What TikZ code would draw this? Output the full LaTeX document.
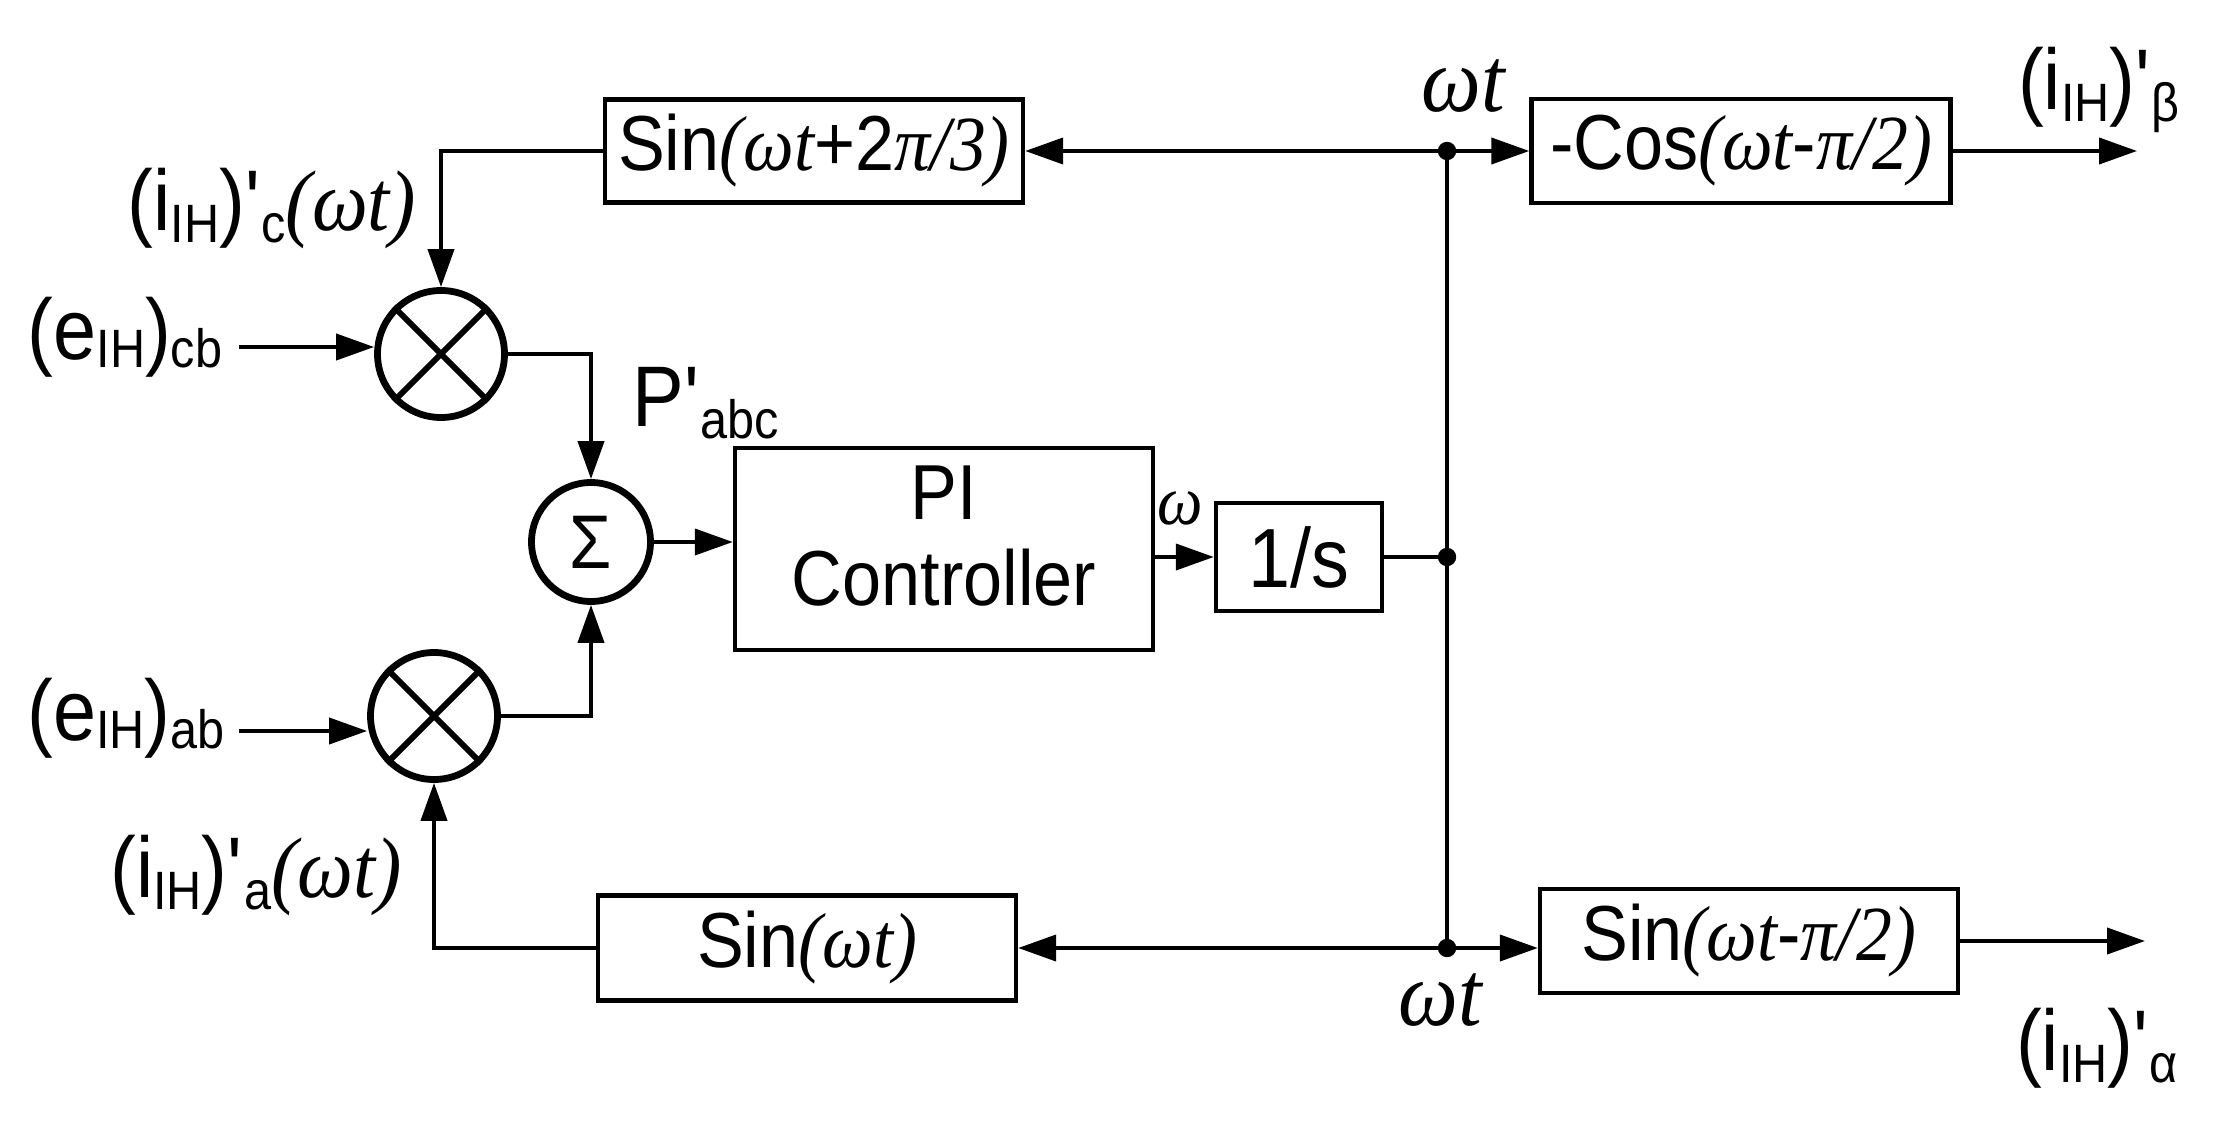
\documentclass[tikz,border=0pt]{standalone}
\usepackage{fontspec}
\setmainfont{Liberation Sans}[FakeStretch=0.9]
\newfontfamily\srf{Liberation Serif}[FakeStretch=0.92]
\usetikzlibrary{arrows.meta,calc}
\newcommand\iw[1]{{\srf\itshape #1}}
\newcommand\lo[2][3pt]{\raisebox{-#1}{\fontsize{13.5}{14}\selectfont #2}}
\newcommand\pr{\textquotesingle}
\begin{document}
\begin{tikzpicture}[x=0.25pt,y=-0.25pt,
  box/.style={draw,line width=1.1pt,inner sep=0pt,font=\fontsize{19.5}{21.5}\selectfont},
  mult/.style={draw,circle,line width=1.7pt,inner sep=0pt,minimum size=31.75pt},
  dot/.style={circle,fill,inner sep=0pt,minimum size=4.6pt},
  lab/.style={inner sep=0pt,font=\fontsize{21.5}{23}\selectfont},
  ln/.style={line width=1pt},
  arr/.style={line width=1pt,-{Triangle[length=9.5pt,width=6.5pt]}}]
\useasboundingbox (0,0) rectangle (2217,1134);
% blocks
\node[box,minimum width=104.5pt,minimum height=25.75pt] (sinc) at (814,151) {Sin\iw{(ωt}+2\iw{π/3)}};
\node[box,minimum width=104.75pt,minimum height=26pt] (cos) at (1741,151) {-Cos\iw{(ωt}-\iw{π/2)}};
\node[box,minimum width=104.5pt,minimum height=50.5pt,align=center] (PI) at (944,549) {PI\\Controller\strut};
\node[box,minimum width=41.5pt,minimum height=27pt,font=\fontsize{21}{22}\selectfont] (int) at (1299,557) {1/s};
\node[box,minimum width=104.5pt,minimum height=26.25pt] (sina) at (807,948) {Sin\iw{(ωt)}};
\node[box,minimum width=104.5pt,minimum height=26pt] (sinb) at (1749,941) {Sin\iw{(ωt}-\iw{π/2)}};
% multipliers and summer
\node[mult] (m1) at (441,354) {};
\node[mult] (m2) at (434,716) {};
\node[mult,minimum size=29.75pt,font=\fontsize{19}{20}\selectfont] (sum) at (591,542) {Σ};
\draw[line width=1.5pt] (m1.45) -- (m1.225) (m1.135) -- (m1.315);
\draw[line width=1.5pt] (m2.45) -- (m2.225) (m2.135) -- (m2.315);
% dots and free ends
\node[dot] (dT) at (1447,151) {};
\node[dot] (dM) at (1447,557) {};
\node[dot] (dB) at (1447,948) {};
\coordinate (outb) at (2137,151);
\coordinate (outa) at (2145,941);
\coordinate (ecbE) at (239,347);
\coordinate (eabE) at (239,731);
% labels
\node[lab] (lic) at (272,208) {(i\lo{IH})\pr\lo{c}\iw{(ωt)}};
\node[lab] (ecb) at (125,337) {(e\lo[2pt]{IH})\lo[2pt]{cb}};
\node[lab] (pabc) at (706,403) {P\pr\lo{abc}};
\node[lab] (eab) at (126,718) {(e\lo[2pt]{IH})\lo[2pt]{ab}};
\node[lab] (lia) at (256,875) {(i\lo{IH})\pr\lo{a}\iw{(ωt)}};
\node[lab,font=\fontsize{23}{24}\selectfont] (wt1) at (1463,86) {\iw{ωt}};
\node[lab,font=\fontsize{23}{24}\selectfont] (wt2) at (1440,1000) {\iw{ωt}};
\node[lab] (lb) at (2099,90) {(i\lo{IH})\pr\lo{β}};
\node[lab] (la) at (2097,1048) {(i\lo{IH})\pr\lo{α}};
\node[lab,font=\fontsize{17.5}{18}\selectfont] (w) at (1180,508) {\iw{ω}};
% connectors
\draw[ln] (int.east) -- (dM.center);
\draw[ln] (dT.center) -- (dB.center);
\draw[arr] (dT.center) -- (sinc.east);
\draw[arr] (dT.center) -- (cos.west);
\draw[arr] (sinc.west) -| (m1.north);
\draw[arr] (m1.east) -| (sum.north);
\draw[arr] (m2.east) -| (sum.south);
\draw[arr] (sum.east) -- (sum.east -| PI.west);
\draw[arr] (int.west -| PI.east) -- (int.west);
\draw[arr] (dB.center) -- (sina.east);
\draw[arr] (dB.center) -- (dB.center -| sinb.west);
\draw[arr] (sina.west) -| (m2.south);
\draw[arr] (cos.east) -- (outb);
\draw[arr] (sinb.east) -- (outa);
\draw[arr] (ecbE) -- (ecbE -| m1.west);
\draw[arr] (eabE) -- (eabE -| m2.west);
\end{tikzpicture}
\end{document}
